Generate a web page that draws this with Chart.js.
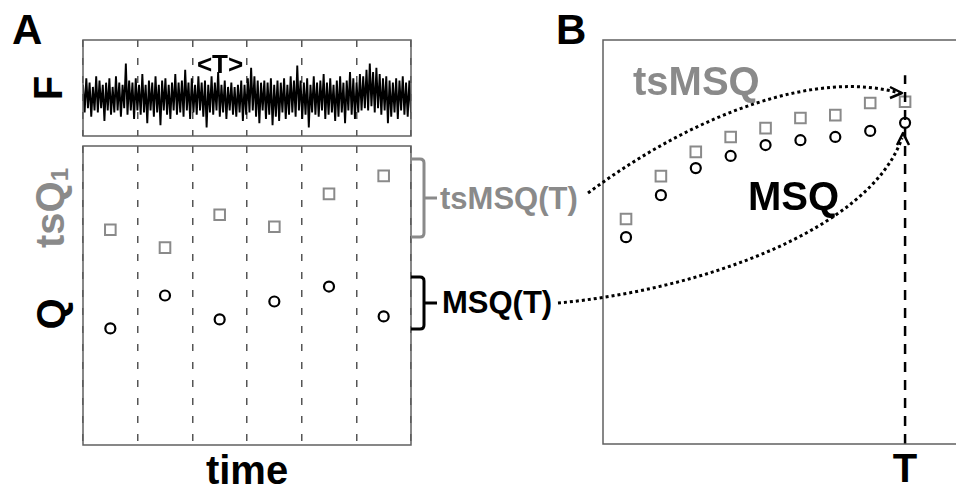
<!doctype html>
<html lang="en">
<head>
<meta charset="utf-8">
<title>MSQ and tsMSQ</title>
<style>
  * { margin: 0; padding: 0; }
  body { width: 956px; height: 485px; overflow: hidden; background: #fff; position: relative;
         font-family: 'Liberation Sans', Arial, sans-serif; }
  .box { position: absolute; }
  .lbl { position: absolute; line-height: 1; white-space: nowrap; font-weight: bold; color: #000; }
  .rot { transform: translate(-50%, -50%) rotate(-90deg); }
  .gray { color: #8a8a8a; }
  sub { font-size: 0.6em; vertical-align: -0.15em; }
  svg { position: absolute; left: 0; top: 0; }
</style>
</head>
<body>
  <div class="box" style="left:81px;top:38px;width:332px;height:100px"><canvas id="fChart"></canvas></div>
  <div class="box" style="left:81px;top:144px;width:332px;height:303px"><canvas id="qChart"></canvas></div>
  <div class="box" style="left:601px;top:38px;width:355px;height:408px"><canvas id="msqChart"></canvas></div>

  <div class="lbl" style="left:12px;top:9px;font-size:42px">A</div>
  <div class="lbl" style="left:556px;top:9px;font-size:42px">B</div>
  <div class="lbl rot" style="left:48px;top:88px;font-size:40px">F</div>
  <div class="lbl rot gray" style="left:51px;top:208px;font-size:40px">tsQ<sub>1</sub></div>
  <div class="lbl rot" style="left:51px;top:314px;font-size:40px">Q</div>
  <div class="lbl" style="left:247px;top:450px;font-size:40px;transform:translateX(-50%)">time</div>
  <div class="lbl" style="left:220px;top:51px;font-size:26px;transform:translateX(-50%)">&lt;T&gt;</div>
  <div class="lbl gray" style="left:440px;top:183px;font-size:31px">tsMSQ(T)</div>
  <div class="lbl" style="left:442px;top:287px;font-size:31px">MSQ(T)</div>
  <div class="lbl gray" style="left:633px;top:61px;font-size:40px">tsMSQ</div>
  <div class="lbl" style="left:748px;top:176px;font-size:40px">MSQ</div>
  <div class="lbl" style="left:905px;top:448px;font-size:40px;transform:translateX(-50%)">T</div>

  <svg width="956" height="485">
    <g fill="none" stroke-linecap="butt" stroke-linejoin="round">
      <path d="M411 159 H420 Q424 159 424 163 V233 Q424 237 420 237 H411 M424 198 H437" stroke="#8a8a8a" stroke-width="3"/>
      <path d="M411 277 H420 Q424 277 424 281 V325 Q424 329 420 329 H411 M424 303 H437" stroke="#000" stroke-width="3"/>
      <path d="M588 193 C700 110 820 70 899 93" stroke="#000" stroke-width="3" stroke-dasharray="3 3"/>
      <path d="M890 87 L902 93 L890 98" stroke="#000" stroke-width="2.5"/>
      <path d="M558 303 C700 290 870 230 902 138" stroke="#000" stroke-width="3" stroke-dasharray="3 3"/>
      <path d="M897 145 L903 133 L909 145" stroke="#000" stroke-width="2.5"/>
    </g>
  </svg>

  <script src="https://cdn.jsdelivr.net/npm/chart.js"></script>
  <script>
    // F: raw signal, hand-read band (positive = up)
    const noiseF = [
      0.6,-0.7,0.9,-0.5,0.7,-0.9,0.5,-0.6,1.0,-0.7,
      0.8,-0.5,0.6,-1.1,0.7,-0.6,0.9,-0.8,0.5,-0.7,
      1.0,-0.6,0.7,-0.9,0.6,-0.5,1.6,-0.8,0.8,-0.6,
      0.7,-1.0,0.9,-0.6,0.6,-0.8,1.1,-0.7,0.6,-1.2,
      0.8,-0.6,0.7,-0.9,1.0,-0.7,0.6,-1.3,0.8,-0.6,
      0.9,-0.8,0.6,-1.0,0.7,-0.6,1.1,-0.8,0.7,-0.7,
      0.8,-0.9,1.3,-0.6,0.7,-1.0,0.9,-0.7,0.6,-0.8,
      1.0,-0.6,0.7,-0.9,0.8,-1.4,0.6,-0.7,1.0,-0.8,
      0.7,-0.6,1.2,-0.9,0.6,-0.7,0.8,-1.0,0.5,-0.6,
      0.7,-0.8,0.5,-0.9,0.6,-0.7,0.8,-1.1,0.6,-0.8,
      0.9,-0.7,1.4,-0.6,1.0,-0.9,0.8,-1.2,0.7,-0.6,
      0.8,-1.0,0.7,-0.8,0.9,-1.3,0.6,-0.9,0.8,-1.1,
      0.7,-0.7,0.9,-1.0,0.6,-0.8,1.0,-0.7,0.8,-0.9,
      1.5,-0.6,0.8,-1.0,0.7,-0.8,0.9,-1.4,0.6,-0.7,
      1.0,-0.8,0.7,-0.9,0.8,-0.6,1.1,-1.0,0.7,-0.8,
      0.9,-0.7,0.6,-1.1,0.8,-0.9,1.0,-0.7,0.7,-1.2,
      0.8,-0.6,1.2,-0.8,0.9,-1.0,0.7,-0.7,1.1,-0.6,
      1.0,-0.5,1.3,-0.6,1.6,-0.4,1.2,-0.7,1.4,-0.5,
      1.1,-0.8,0.9,-0.6,1.0,-1.2,0.8,-0.9,0.7,-0.7,
      0.9,-1.0,0.8,-0.6,1.0,-0.8,0.7,-0.9,0.8,-0.7
    ];
    const nWindows = 6;

    // panel A, one value per window of length T
    const windowMid = [0.5, 1.5, 2.5, 3.5, 4.5, 5.5];
    const tsQ1 = [7.2, 6.6, 7.7, 7.3, 8.4, 9.0];
    const Q = [3.9, 5.0, 4.2, 4.8, 5.3, 4.3];

    // panel B, MSQ curves against window length
    const windowLen = [1, 2, 3, 4, 5, 6, 7, 8, 9];
    const tsMSQ = [5.57, 6.63, 7.23, 7.60, 7.82, 8.07, 8.14, 8.44, 8.47];
    const MSQ = [5.12, 6.16, 6.83, 7.13, 7.40, 7.52, 7.60, 7.75, 7.95];
    const markT = 9;

    const GRAY = '#8a8a8a';
    Chart.defaults.font.family = "'Liberation Sans', Arial, sans-serif";
    Chart.defaults.animation = false;

    // box round the plot area
    const frame = {
      id: 'frame',
      afterDraw(chart, args, opts) {
        const {ctx, chartArea: a} = chart;
        ctx.save();
        ctx.strokeStyle = '#606060';
        ctx.lineWidth = 1.5;
        ctx.beginPath();
        if (opts.open) {
          ctx.moveTo(a.right + 5, a.top);
          ctx.lineTo(a.left, a.top);
          ctx.lineTo(a.left, a.bottom);
          ctx.lineTo(a.right + 5, a.bottom);
        } else {
          ctx.rect(a.left, a.top, a.right - a.left, a.bottom - a.top);
        }
        ctx.stroke();
        ctx.restore();
      }
    };

    const windowAxis = {
      type: 'linear', min: 0, max: nWindows,
      ticks: { display: false, stepSize: 1 },
      grid: { color: '#555', lineWidth: 1.5, drawTicks: false },
      border: { display: false, dash: [7, 11] }
    };

    const pts = (xs, ys) => xs.map((x, i) => ({x, y: ys[i]}));

    new Chart(document.getElementById('fChart'), {
      type: 'scatter',
      data: {
        datasets: [{
          data: noiseF.map((v, i) => ({x: i * nWindows / (noiseF.length - 1), y: v})),
          showLine: true, borderColor: '#000', borderWidth: 1.9, pointRadius: 0, tension: 0
        }]
      },
      options: {
        responsive: true, maintainAspectRatio: false, events: [],
        layout: { padding: 2, autoPadding: false },
        plugins: { legend: { display: false }, tooltip: { enabled: false }, frame: {} },
        scales: {
          x: windowAxis,
          y: { display: false, min: -1.8, max: 2.7 }
        }
      },
      plugins: [frame]
    });

    new Chart(document.getElementById('qChart'), {
      type: 'scatter',
      data: {
        datasets: [
          { data: pts(windowMid, tsQ1), pointStyle: 'rect', pointRadius: 7.5, borderColor: GRAY,
            backgroundColor: 'rgba(0,0,0,0)', borderWidth: 2 },
          { data: pts(windowMid, Q), pointStyle: 'circle', pointRadius: 5, borderColor: '#000',
            backgroundColor: 'rgba(0,0,0,0)', borderWidth: 2.2 }
        ]
      },
      options: {
        responsive: true, maintainAspectRatio: false, events: [],
        layout: { padding: 2, autoPadding: false },
        plugins: { legend: { display: false }, tooltip: { enabled: false }, frame: {} },
        scales: {
          x: windowAxis,
          y: { display: false, min: 0, max: 10 }
        }
      },
      plugins: [frame]
    });

    new Chart(document.getElementById('msqChart'), {
      type: 'scatter',
      data: {
        datasets: [
          { data: [{x: markT, y: 0}, {x: markT, y: 9.13}], showLine: true, pointRadius: 0,
            borderColor: '#000', borderWidth: 2.5, borderDash: [10, 8] },
          { data: pts(windowLen, tsMSQ), pointStyle: 'rect', pointRadius: 7.5, borderColor: GRAY,
            backgroundColor: 'rgba(0,0,0,0)', borderWidth: 2 },
          { data: pts(windowLen, MSQ), pointStyle: 'circle', pointRadius: 5, borderColor: '#000',
            backgroundColor: 'rgba(0,0,0,0)', borderWidth: 2.2 }
        ]
      },
      options: {
        responsive: true, maintainAspectRatio: false, events: [],
        layout: { padding: { left: 2, top: 2, bottom: 2, right: 0 }, autoPadding: false },
        plugins: { legend: { display: false }, tooltip: { enabled: false }, frame: { open: true } },
        scales: {
          x: { display: false, min: 0.34, max: 10.46 },
          y: { display: false, min: 0, max: 10 }
        }
      },
      plugins: [frame]
    });
  </script>
</body>
</html>
